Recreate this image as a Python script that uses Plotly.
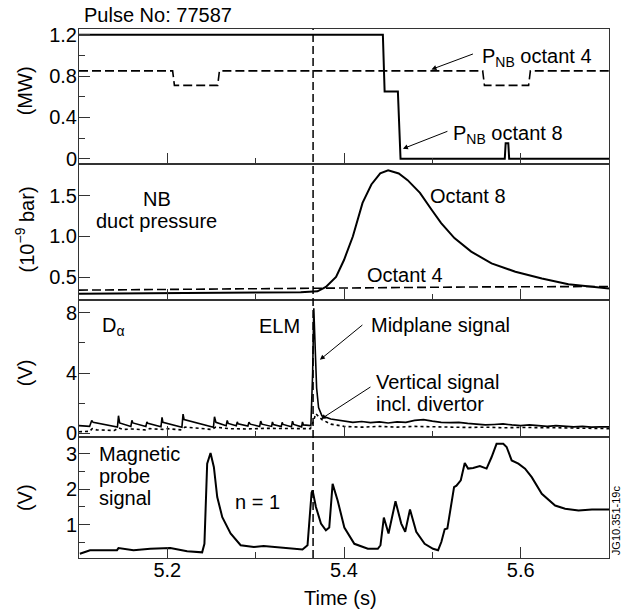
import plotly.graph_objects as go

# ---------------- data ----------------
# Panel 1: NB power (MW)
pnb8_t = [5.100, 5.444, 5.446, 5.461, 5.464, 5.582, 5.583, 5.586, 5.587, 5.700]
pnb8_v = [1.20, 1.20, 0.65, 0.65, 0.00, 0.00, 0.15, 0.15, 0.00, 0.00]
pnb4_t = [5.100, 5.206, 5.208, 5.257, 5.259, 5.557, 5.559, 5.609, 5.611, 5.700]
pnb4_v = [0.85, 0.85, 0.71, 0.71, 0.85, 0.85, 0.71, 0.71, 0.85, 0.85]

# Panel 2: NB duct pressure (1e-9 bar)
duct8_t = [5.100, 5.200, 5.300, 5.351, 5.370, 5.3795, 5.391, 5.400, 5.410, 5.421, 5.431,
           5.441, 5.450, 5.462, 5.472, 5.486, 5.499, 5.510, 5.525, 5.544, 5.567,
           5.594, 5.624, 5.654, 5.681, 5.700]
duct8_v = [0.30, 0.305, 0.315, 0.32, 0.33, 0.385, 0.507, 0.713, 1.00, 1.41, 1.635,
           1.77, 1.807, 1.77, 1.688, 1.533, 1.33, 1.164, 0.98, 0.815, 0.672,
           0.57, 0.488, 0.418, 0.385, 0.365]
duct4_t = [5.10, 5.20, 5.30, 5.36, 5.45, 5.55, 5.65, 5.70]
duct4_v = [0.345, 0.355, 0.365, 0.37, 0.378, 0.384, 0.388, 0.39]

# Panel 3: D-alpha (V)
mid_t = [5.100, 5.112, 5.1144, 5.116, 5.1435, 5.1447, 5.146, 5.1587, 5.1599, 5.161,
         5.1757, 5.1769, 5.178, 5.1928, 5.194, 5.195, 5.2165, 5.2178, 5.219, 5.235,
         5.2522, 5.2534, 5.255, 5.2666, 5.2678, 5.269, 5.278, 5.2792, 5.280,
         5.2912, 5.2924, 5.294, 5.3045, 5.3057, 5.307, 5.318, 5.319, 5.320,
         5.329, 5.330, 5.331, 5.3405, 5.3417, 5.343, 5.352, 5.353, 5.354,
         5.3625, 5.3645, 5.3658, 5.3672, 5.3690, 5.3712, 5.375, 5.385, 5.400,
         5.410, 5.420, 5.430, 5.440, 5.450, 5.460, 5.470, 5.480, 5.490, 5.500,
         5.510, 5.520, 5.530, 5.540, 5.550, 5.560, 5.570, 5.580, 5.590, 5.600,
         5.610, 5.620, 5.630, 5.640, 5.650, 5.660, 5.670, 5.680, 5.690, 5.700]
mid_v = [0.50, 0.45, 0.85, 0.72, 0.40, 1.16, 0.68, 0.45, 0.85, 0.68,
         0.45, 0.75, 0.65, 0.42, 1.05, 0.72, 0.40, 1.27, 0.90, 0.65,
         0.40, 1.09, 0.72, 0.50, 0.85, 0.65, 0.50, 0.75, 0.62,
         0.48, 0.72, 0.60, 0.45, 0.80, 0.60, 0.45, 0.75, 0.58,
         0.45, 0.72, 0.58, 0.42, 0.80, 0.58, 0.42, 0.75, 0.55,
         0.50, 4.00, 8.30, 6.00, 3.00, 1.70, 1.15, 0.94, 0.83,
         0.72, 0.78, 0.70, 0.75, 0.68, 0.75, 0.72, 0.85, 0.90, 0.80,
         0.72, 0.70, 0.72, 0.65, 0.60, 0.55, 0.58, 0.62, 0.55, 0.50,
         0.55, 0.50, 0.45, 0.50, 0.45, 0.42, 0.45, 0.40, 0.42, 0.42]
vert_t = [5.100, 5.112, 5.115, 5.120, 5.140, 5.145, 5.150, 5.160, 5.175, 5.180,
          5.195, 5.200, 5.215, 5.220, 5.250, 5.255, 5.270, 5.290, 5.310, 5.330,
          5.350, 5.362, 5.366, 5.368, 5.375, 5.385, 5.400, 5.420, 5.440, 5.460,
          5.480, 5.500, 5.520, 5.540, 5.560, 5.580, 5.600, 5.620, 5.640, 5.660,
          5.680, 5.700]
vert_v = [0.10, 0.12, 0.30, 0.22, 0.18, 0.35, 0.25, 0.28, 0.22, 0.30,
          0.25, 0.30, 0.22, 0.40, 0.25, 0.40, 0.30, 0.28, 0.32, 0.30,
          0.32, 0.30, 0.90, 1.30, 0.90, 0.60, 0.45, 0.40, 0.45, 0.40,
          0.45, 0.42, 0.40, 0.38, 0.40, 0.36, 0.38, 0.35, 0.36, 0.34,
          0.32, 0.30]

# Panel 4: magnetic probe (V)
mag_t = [5.101, 5.1125, 5.143, 5.1447, 5.1617, 5.1807, 5.2034, 5.2224, 5.2394, 5.242,
         5.2451, 5.2489, 5.2527, 5.2565, 5.2622, 5.2716, 5.283, 5.298, 5.309, 5.332,
         5.353, 5.3587, 5.3633, 5.3644, 5.3682, 5.3739, 5.3795, 5.3833, 5.3871, 5.3928,
         5.4004, 5.4117, 5.427, 5.4383, 5.4413, 5.4451, 5.4504, 5.4583, 5.4648, 5.4693,
         5.4747, 5.4818, 5.4913, 5.5008, 5.5065, 5.5102, 5.514, 5.517, 5.5197, 5.5246,
         5.5273, 5.5322, 5.5367, 5.5405, 5.5462, 5.5538, 5.5614, 5.567, 5.5727, 5.5803,
         5.5841, 5.5898, 5.5974, 5.605, 5.6125, 5.6239, 5.639, 5.6503, 5.6655, 5.6807,
         5.700]
mag_v = [0.18, 0.28, 0.28, 0.34, 0.28, 0.32, 0.34, 0.25, 0.22, 0.46,
         2.72, 3.02, 2.62, 1.78, 1.21, 0.75, 0.42, 0.37, 0.40, 0.34,
         0.30, 0.42, 1.90, 1.97, 1.50, 1.03, 0.84, 0.92, 2.15, 1.68,
         0.92, 0.46, 0.32, 0.32, 0.42, 1.20, 0.75, 1.66, 1.03, 0.80,
         1.43, 0.80, 0.46, 0.32, 0.28, 0.51, 0.87, 0.89, 1.31, 2.06,
         2.10, 2.25, 2.74, 2.58, 2.60, 2.65, 2.58, 2.90, 3.28, 3.28,
         3.19, 2.81, 2.72, 2.58, 2.34, 1.87, 1.54, 1.45, 1.40, 1.43,
         1.43]

elm_time = 5.365
x_range = [5.1, 5.7]
x_tickvals = [5.2, 5.4, 5.6]
x_ticktext = ["5.2", "5.4", "5.6"]

# ---------------- figure ----------------
FONT = "Liberation Sans, Arial, Helvetica, sans-serif"
FS = 20
BLACK = "black"

fig = go.Figure()

def add(t, v, i, dash="solid", width=2):
    fig.add_trace(go.Scatter(x=t, y=v, mode="lines",
                             line=dict(color=BLACK, width=width, dash=dash),
                             xaxis="x" if i == 1 else f"x{i}",
                             yaxis="y" if i == 1 else f"y{i}",
                             showlegend=False, hoverinfo="skip"))

add(pnb4_t, pnb4_v, 1, dash="9px,4px", width=1.6)
add(pnb8_t, pnb8_v, 1, width=2)
add(duct4_t, duct4_v, 2, dash="9px,4px", width=1.6)
add(duct8_t, duct8_v, 2, width=2)
add(vert_t, vert_v, 3, dash="dot", width=1.6)
add(mid_t, mid_v, 3, width=1.6)
add(mag_t, mag_v, 4, width=2)

domains = {1: [0.744, 1.0], 2: [0.487, 0.744], 3: [0.228, 0.487], 4: [0.0, 0.228]}
yranges = {1: [-0.055, 1.255], 2: [0.22, 1.88], 3: [-0.28, 8.83], 4: [0.06, 3.46]}
ymajor = {1: ([0, 0.4, 0.8, 1.2], ["0", "0.4", "0.8", "1.2"]),
          2: ([0.5, 1.0, 1.5], ["0.5", "1.0", "1.5"]),
          3: ([0, 4, 8], ["0", "4", "8"]),
          4: ([1, 2, 3], ["1", "2", "3"])}
yminor = {1: [0.2, 0.6, 1.0], 2: [], 3: [2, 6], 4: [0.5, 1.5, 2.5]}

layout = dict(
    width=630, height=615,
    margin=dict(l=79, r=21, t=29, b=57),
    paper_bgcolor="white", plot_bgcolor="white",
    font=dict(family=FONT, size=FS, color=BLACK),
    showlegend=False,
)

for i in range(1, 5):
    xa = "xaxis" if i == 1 else f"xaxis{i}"
    ya = "yaxis" if i == 1 else f"yaxis{i}"
    layout[xa] = dict(
        domain=[0, 1], range=x_range, anchor="y" if i == 1 else f"y{i}",
        showline=True, linecolor="#333", linewidth=1, mirror=True,
        ticks="inside", ticklen=11, tickcolor="#333", tickwidth=1,
        tickvals=x_tickvals, ticktext=x_ticktext,
        showticklabels=(i == 4), showgrid=False, zeroline=False,
        minor=dict(tickvals=[5.3, 5.5], ticks="inside", ticklen=6,
                   tickcolor="#333", showgrid=False),
        tickfont=dict(size=FS), ticklabelstandoff=-6,
    )
    layout[ya] = dict(
        domain=domains[i], range=yranges[i], anchor="x" if i == 1 else f"x{i}",
        showline=True, linecolor="#333", linewidth=1, mirror=True,
        ticks="inside", ticklen=11, tickcolor="#333", tickwidth=1,
        tickvals=ymajor[i][0], ticktext=ymajor[i][1],
        showgrid=False, zeroline=False,
        minor=dict(tickvals=yminor[i], ticks="inside", ticklen=6,
                   tickcolor="#333", showgrid=False),
        tickfont=dict(size=FS), ticklabelstandoff=-3,
    )

fig.update_layout(**layout)

# vertical ELM line
fig.add_shape(type="line", xref="x", yref="paper", x0=elm_time, x1=elm_time, y0=0, y1=1,
              line=dict(color=BLACK, width=1.5, dash="8px,4px"))

ann = []

def txt(text, x, y, i, xanchor="center", yanchor="middle", size=FS):
    ann.append(dict(text=text, x=x, y=y, xref="x" if i == 1 else f"x{i}",
                    yref="y" if i == 1 else f"y{i}", showarrow=False,
                    xanchor=xanchor, yanchor=yanchor, font=dict(size=size)))

def arrow(x, y, ax, ay, i):
    ann.append(dict(text="", x=x, y=y, ax=ax, ay=ay, xref="x" if i == 1 else f"x{i}",
                    yref="y" if i == 1 else f"y{i}", showarrow=True,
                    arrowhead=2, arrowsize=1, arrowwidth=1, arrowcolor=BLACK))

# panel 1
txt("P<sub>NB</sub> octant 4", 5.5534, 0.98, 1, xanchor="left")
arrow(5.499, 0.864, 43, -16, 1)
txt("P<sub>NB</sub> octant 8", 5.5216, 0.23, 1, xanchor="left")
arrow(5.4667, 0.097, 46, -18, 1)
# panel 2
txt("NB", 5.1883, 1.459, 2)
txt("duct pressure", 5.1875, 1.193, 2)
txt("Octant 8", 5.5406, 1.49, 2)
txt("Octant 4", 5.4693, 0.528, 2)
# panel 3
txt("D<sub>α</sub>", 5.1239, 7.1, 3, xanchor="left")
txt("ELM", 5.327, 7.1, 3)
txt("Midplane signal", 5.4284, 7.19, 3, xanchor="left")
arrow(5.3727, 4.88, 44, -36, 3)
txt("Vertical signal", 5.434, 3.41, 3, xanchor="left")
txt("incl. divertor", 5.434, 1.97, 3, xanchor="left")
arrow(5.3739, 0.94, 51, -33, 3)
# panel 4
txt("Magnetic", 5.1205, 3.0, 4, xanchor="left")
txt("probe", 5.1205, 2.36, 4, xanchor="left")
txt("signal", 5.1205, 1.74, 4, xanchor="left")
txt("n = 1", 5.3019, 1.64, 4)

# paper-level texts
def ptxt(text, x, y, angle=0, size=FS, xanchor="center", yanchor="middle"):
    ann.append(dict(text=text, x=x, y=y, xref="paper", yref="paper", showarrow=False,
                    textangle=angle, xanchor=xanchor, yanchor=yanchor,
                    font=dict(size=size)))

ptxt("(MW)", -0.102, 0.884, angle=-90)
ptxt("(10<sup>−9</sup> bar)", -0.102, 0.621, angle=-90)
ptxt("(V)", -0.102, 0.351, angle=-90)
ptxt("(V)", -0.102, 0.115, angle=-90)
ptxt("Pulse No: 77587", 0.005, 1.027, xanchor="left")
ptxt("Time (s)", 0.494, -0.076)
ptxt("JG10.351-19c", 1.0145, 0.071, angle=-90, size=11)

fig.update_layout(annotations=ann)

fig.write_html("out.html")
